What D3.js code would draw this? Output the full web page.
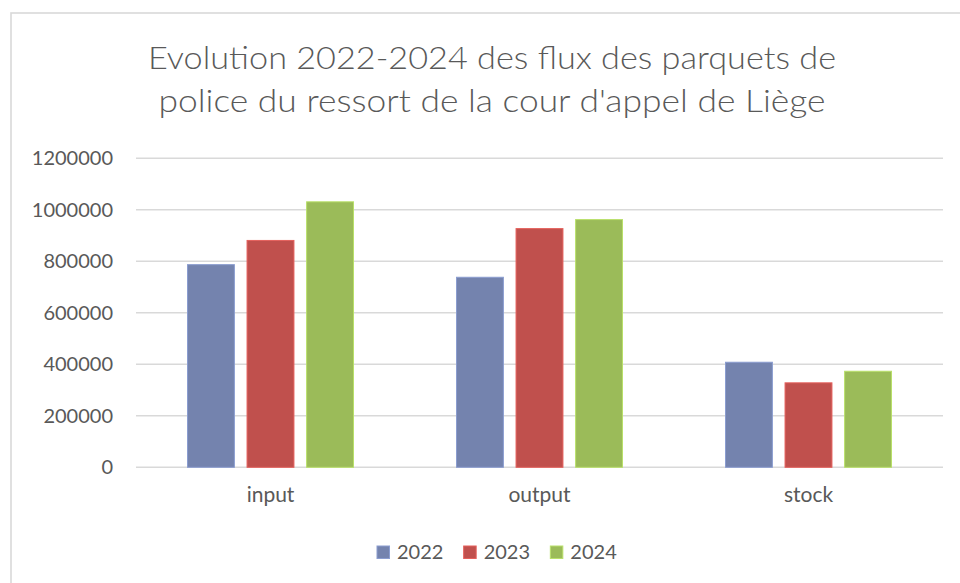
<!DOCTYPE html>
<html>
<head>
<meta charset="utf-8">
<script src="https://cdn.jsdelivr.net/npm/d3@7"></script>
<style>
  html, body { margin: 0; padding: 0; background: #fff; }
  svg { display: block; font-family: Lato, "Open Sans", sans-serif; }
</style>
</head>
<body>
<div id="chart"></div>
<script>
// data
const categories = ['input', 'output', 'stock'];
const years = ['2022', '2023', '2024'];
const values2022 = [787000, 738000, 408000];
const values2023 = [881000, 927000, 328000];
const values2024 = [1031000, 962000, 373000];
const yTicks = [0, 200000, 400000, 600000, 800000, 1000000, 1200000];
const titleLines = ['Evolution 2022-2024 des flux des parquets de',
                    "police du ressort de la cour d'appel de Liège"];

const W = 960, H = 583,
      textColor = '#595959',
      gridColor = '#d9d9d9';
const yearColor = { '2022': '#7483ae', '2023': '#c0504d', '2024': '#9bbb59' };
const series = { '2022': values2022, '2023': values2023, '2024': values2024 };

const svg = d3.select('#chart').append('svg')
    .attr('width', W)
    .attr('height', H);

// chart frame (cropped at right and bottom)
svg.append('rect')
    .attr('x', 11).attr('y', 13)
    .attr('width', 1000).attr('height', 1000)
    .attr('fill', '#fff')
    .attr('stroke', gridColor)
    .attr('stroke-width', 1.6);

// title
const titleWidths = [688, 667];
svg.append('g').selectAll('text')
  .data(titleLines)
  .enter().append('text')
    .attr('x', 492)
    .attr('y', (d, i) => 69 + i * 43)
    .attr('text-anchor', 'middle')
    .attr('font-size', 31)
    .attr('font-weight', 300)
    .attr('fill', textColor)
    .attr('textLength', (d, i) => titleWidths[i])
    .attr('lengthAdjust', 'spacingAndGlyphs')
    .text(d => d);

// scales
const x0 = d3.scaleBand().domain(categories).range([136, 943]);
const groupW = x0.bandwidth() * 166 / 269;
const x1 = d3.scaleBand().domain(years).range([0, groupW]).paddingInner(0.2126);
const y = d3.scaleLinear().domain([0, 1200000]).range([467.3, 158.3]);

// gridlines
svg.append('g').selectAll('line')
  .data(yTicks)
  .enter().append('line')
    .attr('x1', 136).attr('x2', 943)
    .attr('y1', d => y(d)).attr('y2', d => y(d))
    .attr('stroke', gridColor)
    .attr('stroke-width', 1.5);

// y axis labels
const yAxis = svg.append('g')
    .attr('transform', 'translate(113,0)')
    .call(d3.axisLeft(y).tickValues(yTicks).tickSize(0).tickPadding(0).tickFormat(d3.format('d')));
yAxis.select('.domain').remove();
yAxis.selectAll('text')
    .attr('font-family', 'Lato, "Open Sans", sans-serif')
    .attr('font-size', 20)
    .attr('fill', textColor);

// bars
const rows = categories.map((c, i) => ({ cat: c, vals: years.map(yr => ({ year: yr, value: series[yr][i] })) }));
const grp = svg.append('g').selectAll('g')
  .data(rows)
  .enter().append('g')
    .attr('transform', d => `translate(${x0(d.cat) + (x0.bandwidth() - groupW) / 2},0)`);

grp.selectAll('rect')
  .data(d => d.vals)
  .enter().append('rect')
    .attr('x', d => x1(d.year))
    .attr('y', d => y(d.value))
    .attr('width', x1.bandwidth())
    .attr('height', d => y(0) - y(d.value))
    .attr('fill', d => yearColor[d.year])
    .attr('stroke', d => d3.color(yearColor[d.year]).brighter(0.5))
    .attr('stroke-width', 1);

// category labels
const xAxis = svg.append('g')
    .attr('transform', 'translate(0,487)')
    .call(d3.axisBottom(x0).tickSize(0).tickPadding(0));
xAxis.select('.domain').remove();
xAxis.selectAll('text')
    .attr('font-family', 'Lato, "Open Sans", sans-serif')
    .attr('font-size', 21)
    .attr('fill', textColor);

// legend
const legendX = d3.scaleBand().domain(years).range([377, 637]);
const lg = svg.append('g').selectAll('g')
  .data(years)
  .enter().append('g')
    .attr('transform', d => `translate(${legendX(d)},546)`);
lg.append('rect')
    .attr('width', 12.5).attr('height', 12.5)
    .attr('fill', d => yearColor[d])
    .attr('stroke', d => d3.color(yearColor[d]).brighter(0.5))
    .attr('stroke-width', 1);
lg.append('text')
    .attr('x', 20)
    .attr('y', 12.5)
    .attr('font-size', 20)
    .attr('fill', textColor)
    .text(d => d);
</script>
</body>
</html>
